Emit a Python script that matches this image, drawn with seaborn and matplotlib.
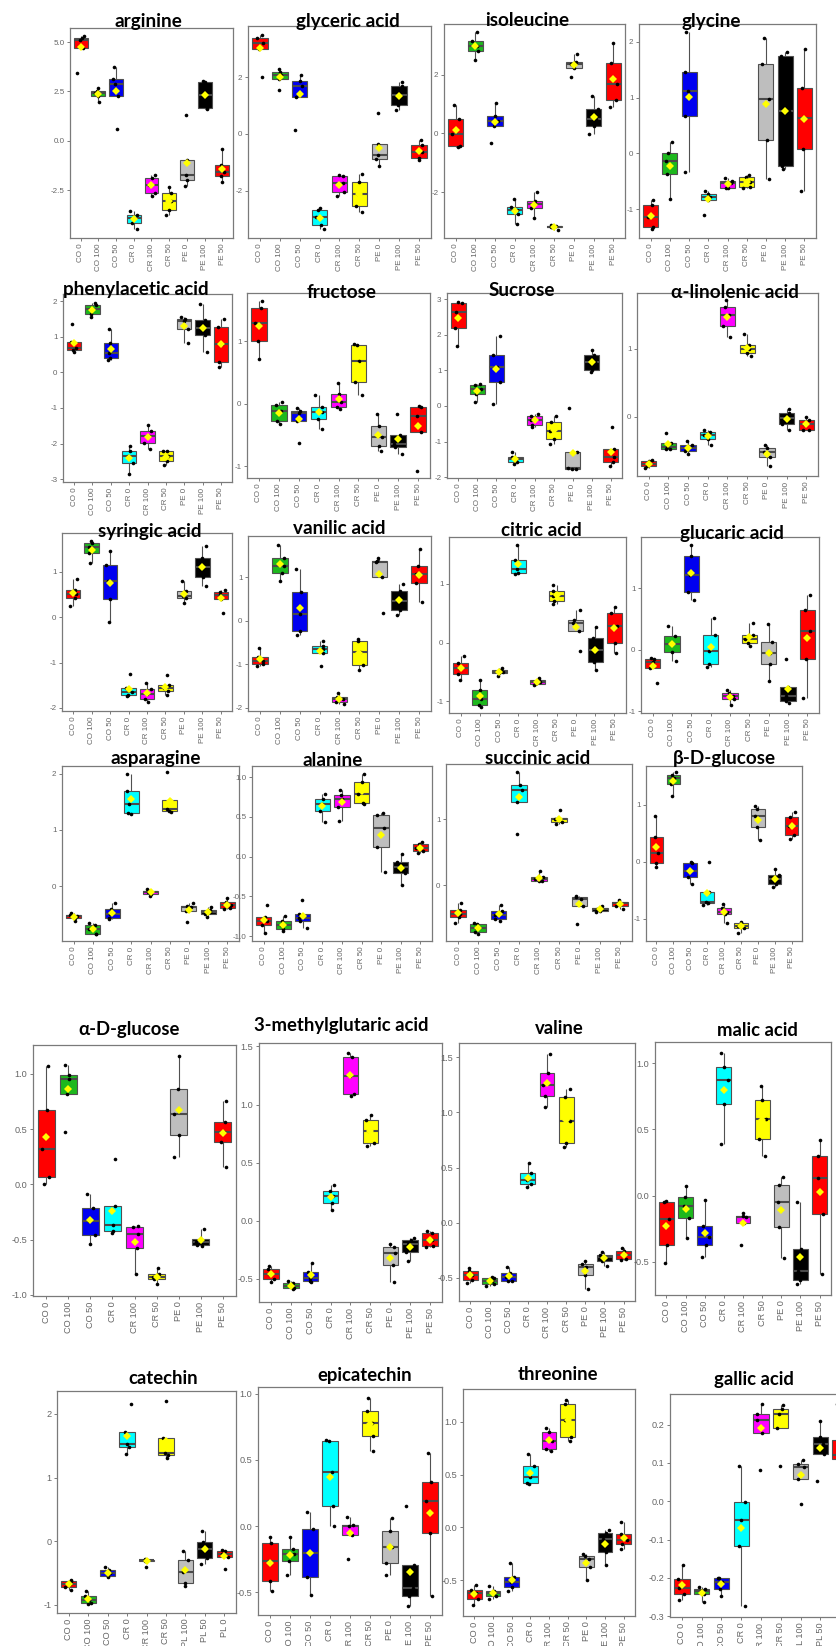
import numpy as np
import pandas as pd
import matplotlib
matplotlib.use("Agg")
import matplotlib.pyplot as plt
import seaborn as sns

# ---------------------------------------------------------------------------
# Treatment groups and their fill colours
GROUPS = ["CO 0", "CO 100", "CO 50", "CR 0", "CR 100", "CR 50", "PE 0", "PE 100", "PE 50"]
GROUPS_PL = ["CO 0", "CO 100", "CO 50", "CR 0", "CR 100", "CR 50", "PL 100", "PL 50", "PL 0"]
FILLS = ["#FF0000", "#1DB81D", "#0000F0", "#00FFFF", "#FF00FF", "#FFFF00",
         "#BEBEBE", "#000000", "#FF0000"]

# Scaled abundances, one list of replicates per group (same order as the groups)
arginine = [[3.42, 4.68, 5.1, 5.22, 5.3], [1.95, 2.25, 2.4, 2.52, 2.66], [0.59, 2.24, 2.86, 3.11, 3.75],
            [-4.46, -4.19, -3.94, -3.74, -3.54], [-2.78, -2.64, -2.22, -1.89, -1.72],
            [-3.74, -3.52, -3.06, -2.64, -2.36], [-2.3, -1.97, -1.75, -0.98, 1.31],
            [1.6, 1.65, 2.3, 2.95, 3.0], [-2.1, -1.77, -1.6, -1.23, -0.42]]
glyceric_acid = [[2.0, 2.97, 3.2, 3.38, 3.46], [1.53, 1.92, 2.06, 2.16, 2.27], [0.15, 1.3, 1.67, 1.85, 2.06],
                 [-3.35, -3.18, -2.91, -2.68, -2.6], [-2.19, -2.04, -1.72, -1.49, -1.45],
                 [-2.74, -2.53, -2.12, -1.68, -1.42], [-1.13, -0.87, -0.75, -0.36, 0.74],
                 [0.85, 1.03, 1.36, 1.67, 1.81], [-0.92, -0.84, -0.62, -0.4, -0.22]]
isoleucine = [[-0.47, -0.42, -0.03, 0.48, 0.96], [2.5, 2.81, 2.98, 3.16, 3.45], [-0.32, 0.24, 0.42, 0.6, 1.04],
              [-3.09, -2.75, -2.62, -2.52, -2.25], [-2.9, -2.55, -2.41, -2.29, -1.99],
              [-3.3, -3.21, -3.18, -3.15, -3.12], [1.93, 2.24, 2.36, 2.44, 2.7],
              [-0.03, 0.27, 0.5, 0.83, 1.28], [0.9, 1.13, 1.68, 2.42, 3.1]]
glycine = [[-1.36, -1.33, -1.14, -0.93, -0.84], [-0.82, -0.37, -0.14, 0.01, 0.21], [-0.34, 0.67, 1.11, 1.46, 2.18],
           [-1.11, -0.84, -0.78, -0.73, -0.67], [-0.63, -0.62, -0.54, -0.5, -0.45],
           [-0.62, -0.6, -0.52, -0.42, -0.39], [-0.46, 0.24, 0.97, 1.61, 2.06],
           [-0.29, -0.23, 0.75, 1.74, 1.82], [-0.67, 0.08, 0.64, 1.18, 1.88]]
phenylacetic_acid = [[0.58, 0.64, 0.69, 0.86, 1.37], [1.56, 1.63, 1.78, 1.89, 1.96], [0.36, 0.39, 0.55, 0.81, 1.21],
                     [-2.86, -2.55, -2.36, -2.22, -2.08], [-2.16, -1.99, -1.8, -1.64, -1.48],
                     [-2.6, -2.5, -2.36, -2.21, -2.2], [0.81, 1.23, 1.44, 1.51, 1.56],
                     [0.56, 1.05, 1.25, 1.47, 1.91], [0.14, 0.3, 0.79, 1.28, 1.51]]
fructose = [[0.72, 1.0, 1.29, 1.53, 1.64], [-0.33, -0.27, -0.12, -0.02, 0.02], [-0.63, -0.28, -0.15, -0.12, -0.07],
            [-0.41, -0.24, -0.14, -0.05, 0.14], [-0.08, -0.06, 0.03, 0.16, 0.33],
            [0.14, 0.34, 0.68, 0.94, 0.95], [-0.76, -0.68, -0.53, -0.35, -0.16],
            [-0.8, -0.69, -0.64, -0.5, -0.16], [-1.07, -0.45, -0.2, -0.05, -0.03]]
sucrose = [[1.68, 2.2, 2.65, 2.9, 2.93], [0.1, 0.33, 0.49, 0.59, 0.62], [0.05, 0.66, 1.08, 1.44, 1.95],
           [-1.62, -1.57, -1.49, -1.42, -1.28], [-0.58, -0.53, -0.39, -0.27, -0.22],
           [-1.06, -0.93, -0.7, -0.46, -0.28], [-1.78, -1.76, -1.75, -1.29, -0.05],
           [0.96, 1.02, 1.24, 1.42, 1.56], [-1.69, -1.57, -1.44, -1.2, -0.6]]
alpha_linolenic_acid = [[-0.75, -0.73, -0.69, -0.65, -0.63], [-0.48, -0.47, -0.44, -0.39, -0.24],
                        [-0.55, -0.5, -0.46, -0.41, -0.36], [-0.41, -0.32, -0.26, -0.23, -0.19],
                        [1.18, 1.33, 1.5, 1.62, 1.71], [0.89, 0.94, 0.99, 1.06, 1.21],
                        [-0.73, -0.59, -0.51, -0.46, -0.41], [-0.2, -0.1, -0.02, 0.06, 0.11],
                        [-0.2, -0.19, -0.11, -0.04, 0.0]]
syringic_acid = [[0.25, 0.43, 0.51, 0.6, 0.84], [1.19, 1.42, 1.55, 1.63, 1.68], [-0.11, 0.4, 0.81, 1.16, 1.47],
                 [-1.74, -1.72, -1.66, -1.56, -1.25], [-1.88, -1.8, -1.69, -1.58, -1.45],
                 [-1.71, -1.63, -1.57, -1.5, -1.28], [0.31, 0.42, 0.48, 0.58, 0.8],
                 [0.69, 0.88, 1.1, 1.3, 1.58], [0.1, 0.4, 0.49, 0.55, 0.6]]
vanilic_acid = [[-1.03, -1.0, -0.93, -0.83, -0.62], [0.92, 1.1, 1.25, 1.44, 1.74], [-0.33, -0.24, 0.15, 0.65, 1.19],
                [-1.04, -0.75, -0.64, -0.58, -0.46], [-1.9, -1.87, -1.8, -1.76, -1.65],
                [-1.13, -1.02, -0.72, -0.46, -0.41], [0.18, 1.01, 1.34, 1.36, 1.44],
                [0.12, 0.25, 0.46, 0.67, 0.85], [0.43, 0.86, 1.07, 1.25, 1.65]]
citric_acid = [[-0.64, -0.54, -0.44, -0.34, -0.22], [-1.09, -1.06, -0.96, -0.8, -0.63],
               [-0.57, -0.52, -0.5, -0.47, -0.43], [1.17, 1.18, 1.25, 1.4, 1.66],
               [-0.73, -0.7, -0.67, -0.63, -0.6], [0.65, 0.71, 0.8, 0.88, 0.98],
               [-0.14, 0.2, 0.34, 0.39, 0.56], [-0.47, -0.33, -0.13, 0.07, 0.26], [-0.18, 0.0, 0.28, 0.51, 0.6]]
glucaric_acid = [[-0.54, -0.3, -0.2, -0.16, -0.13], [-0.19, -0.04, 0.09, 0.22, 0.38], [0.81, 0.94, 1.22, 1.52, 1.7],
                 [-0.29, -0.23, -0.03, 0.23, 0.51], [-0.9, -0.81, -0.76, -0.71, -0.66],
                 [0.06, 0.11, 0.17, 0.24, 0.43], [-0.51, -0.24, -0.05, 0.12, 0.41],
                 [-0.87, -0.84, -0.76, -0.6, -0.15], [-0.78, -0.15, 0.31, 0.65, 0.89]]
asparagine = [[-0.62, -0.57, -0.54, -0.51, -0.48], [-0.86, -0.85, -0.76, -0.69, -0.66],
              [-0.58, -0.57, -0.49, -0.41, -0.31], [1.29, 1.31, 1.46, 1.69, 2.0],
              [-0.18, -0.14, -0.11, -0.08, -0.06], [1.32, 1.34, 1.37, 1.54, 2.03],
              [-0.65, -0.45, -0.38, -0.35, -0.3], [-0.56, -0.5, -0.47, -0.43, -0.37],
              [-0.41, -0.4, -0.34, -0.28, -0.22]]
alanine = [[-0.96, -0.86, -0.81, -0.76, -0.61], [-0.94, -0.91, -0.86, -0.81, -0.75],
           [-0.9, -0.81, -0.77, -0.72, -0.55], [0.44, 0.58, 0.66, 0.73, 0.79],
           [0.45, 0.63, 0.72, 0.77, 0.84], [0.66, 0.68, 0.79, 0.94, 1.04],
           [-0.19, 0.12, 0.36, 0.52, 0.55], [-0.36, -0.21, -0.13, -0.07, 0.03], [0.05, 0.07, 0.11, 0.16, 0.18]]
succinic_acid = [[-0.57, -0.48, -0.43, -0.37, -0.27], [-0.73, -0.71, -0.64, -0.58, -0.57],
                 [-0.54, -0.51, -0.45, -0.39, -0.3], [0.77, 1.25, 1.44, 1.51, 1.71],
                 [0.06, 0.07, 0.1, 0.13, 0.21], [0.92, 0.96, 1.0, 1.02, 1.13],
                 [-0.59, -0.31, -0.2, -0.18, -0.16], [-0.4, -0.39, -0.36, -0.34, -0.31],
                 [-0.36, -0.31, -0.27, -0.25, -0.22]]
beta_d_glucose = [[-0.1, -0.02, 0.16, 0.43, 0.8], [1.15, 1.37, 1.47, 1.52, 1.57], [-0.39, -0.26, -0.16, -0.03, 0.0],
                  [-0.75, -0.73, -0.71, -0.53, 0.0], [-1.07, -0.92, -0.88, -0.81, -0.74],
                  [-1.25, -1.16, -1.12, -1.08, -1.05], [0.39, 0.61, 0.8, 0.92, 0.98],
                  [-0.44, -0.39, -0.31, -0.23, -0.13], [0.4, 0.47, 0.63, 0.79, 0.88]]
alpha_d_glucose = [[0.0, 0.07, 0.32, 0.67, 1.07], [0.47, 0.82, 0.95, 0.99, 1.08], [-0.54, -0.46, -0.33, -0.21, -0.09],
                   [-0.44, -0.42, -0.37, -0.2, 0.23], [-0.81, -0.58, -0.45, -0.39, -0.38],
                   [-0.9, -0.86, -0.84, -0.81, -0.76], [0.25, 0.45, 0.64, 0.86, 1.16],
                   [-0.56, -0.55, -0.52, -0.49, -0.4], [0.16, 0.38, 0.47, 0.56, 0.75]]
methylglutaric_acid = [[-0.53, -0.5, -0.46, -0.42, -0.39], [-0.59, -0.58, -0.56, -0.54, -0.52],
                       [-0.53, -0.52, -0.49, -0.44, -0.36], [0.09, 0.15, 0.21, 0.26, 0.31],
                       [1.07, 1.09, 1.25, 1.41, 1.44], [0.64, 0.67, 0.77, 0.87, 0.91],
                       [-0.53, -0.38, -0.28, -0.23, -0.2], [-0.35, -0.27, -0.2, -0.17, -0.15],
                       [-0.23, -0.22, -0.17, -0.11, -0.09]]
valine = [[-0.55, -0.52, -0.47, -0.44, -0.41], [-0.57, -0.56, -0.53, -0.5, -0.49],
          [-0.53, -0.53, -0.49, -0.46, -0.4], [0.32, 0.35, 0.39, 0.45, 0.54],
          [1.05, 1.15, 1.25, 1.36, 1.53], [0.69, 0.72, 0.92, 1.14, 1.21],
          [-0.6, -0.47, -0.4, -0.37, -0.35], [-0.39, -0.35, -0.31, -0.29, -0.27],
          [-0.34, -0.33, -0.29, -0.26, -0.23]]
malic_acid = [[-0.51, -0.37, -0.18, -0.05, -0.04], [-0.32, -0.17, -0.08, -0.01, 0.07],
              [-0.46, -0.37, -0.31, -0.23, -0.03], [0.39, 0.69, 0.87, 0.97, 1.08],
              [-0.37, -0.21, -0.16, -0.15, -0.13], [0.3, 0.43, 0.58, 0.72, 0.83],
              [-0.47, -0.24, -0.05, 0.08, 0.14], [-0.67, -0.64, -0.57, -0.4, -0.05],
              [-0.59, -0.14, 0.13, 0.3, 0.42]]
catechin = [[-0.77, -0.72, -0.67, -0.63, -0.61], [-0.99, -0.98, -0.92, -0.86, -0.79],
            [-0.56, -0.55, -0.5, -0.45, -0.41], [1.37, 1.48, 1.53, 1.71, 2.16],
            [-0.4, -0.32, -0.3, -0.29, -0.28], [1.3, 1.36, 1.39, 1.62, 2.21],
            [-0.7, -0.66, -0.49, -0.29, -0.16], [-0.36, -0.26, -0.13, -0.01, 0.16],
            [-0.44, -0.25, -0.21, -0.16, -0.14]]
epicatechin = [[-0.49, -0.41, -0.26, -0.13, -0.08], [-0.37, -0.26, -0.21, -0.17, -0.08],
               [-0.52, -0.38, -0.2, -0.02, 0.11], [0.0, 0.15, 0.41, 0.64, 0.65],
               [-0.25, -0.07, 0.0, 0.01, 0.07], [0.57, 0.68, 0.78, 0.87, 0.97],
               [-0.37, -0.28, -0.16, -0.04, 0.06], [-0.6, -0.53, -0.47, -0.29, 0.15],
               [-0.53, -0.05, 0.19, 0.33, 0.55]]
threonine = [[-0.74, -0.68, -0.62, -0.59, -0.55], [-0.68, -0.65, -0.62, -0.6, -0.56],
             [-0.6, -0.57, -0.52, -0.47, -0.34], [0.41, 0.42, 0.48, 0.58, 0.69],
             [0.72, 0.74, 0.82, 0.9, 0.94], [0.82, 0.86, 1.02, 1.17, 1.21],
             [-0.5, -0.38, -0.3, -0.27, -0.25], [-0.36, -0.23, -0.11, -0.05, -0.03],
             [-0.21, -0.16, -0.12, -0.06, 0.05]]
gallic_acid = [[-0.258, -0.242, -0.226, -0.203, -0.167], [-0.263, -0.243, -0.235, -0.229, -0.223],
               [-0.246, -0.229, -0.211, -0.2, -0.199], [-0.274, -0.117, -0.048, -0.003, 0.091],
               [0.081, 0.178, 0.213, 0.228, 0.254], [0.091, 0.19, 0.228, 0.241, 0.252],
               [-0.006, 0.058, 0.09, 0.098, 0.109], [0.052, 0.123, 0.15, 0.167, 0.209],
               [0.106, 0.11, 0.122, 0.161, 0.254]]

# ---------------------------------------------------------------------------
# Panel layout: title, values, group labels, axes box in pixels (left, top, right, bottom),
# title centre in pixels, y-range, y ticks, tick format, text scale ("s" small / "l" large)
PANELS = [
    ("arginine", arginine, GROUPS, (70, 28, 233, 238), (148, 21), (-4.93, 5.71), [-2.5, 0, 2.5, 5], "%.1f", "s"),
    ("glyceric acid", glyceric_acid, GROUPS, (248, 26, 431, 238), (348, 21), (-3.65, 3.79), [-2, 0, 2], "%d", "s"),
    ("isoleucine", isoleucine, GROUPS, (444, 24, 625, 238), (527, 21), (-3.57, 3.74), [-2, 0, 2], "%d", "s"),
    ("glycine", glycine, GROUPS, (639, 24, 816, 238), (711, 21), (-1.52, 2.32), [-1, 0, 1, 2], "%d", "s"),
    ("phenylacetic acid", phenylacetic_acid, GROUPS, (63, 294, 232, 482), (136, 290), (-3.08, 2.2),
     [-3, -2, -1, 0, 1, 2], "%d", "s"),
    ("fructose", fructose, GROUPS, (247, 293, 430, 478), (342, 292), (-1.19, 1.77), [-1, 0, 1], "%d", "s"),
    ("Sucrose", sucrose, GROUPS, (447, 293, 622, 478), (522, 290), (-2.02, 3.17), [-2, -1, 0, 1, 2, 3], "%d", "s"),
    ("\u03b1-linolenic acid", alpha_linolenic_acid, GROUPS, (637, 293, 818, 476), (735, 293), (-0.87, 1.82),
     [0, 1], "%d", "s"),
    ("syringic acid", syringic_acid, GROUPS, (62, 533, 232, 711), (150, 531), (-2.07, 1.86), [-2, -1, 0, 1], "%d", "s"),
    ("vanilic acid", vanilic_acid, GROUPS, (248, 536, 431, 711), (339, 529), (-2.07, 1.94), [-2, -1, 0, 1], "%d", "s"),
    ("citric acid", citric_acid, GROUPS, (449, 537, 626, 713), (541, 531), (-1.2, 1.8), [-1, 0, 1], "%d", "s"),
    ("glucaric acid", glucaric_acid, GROUPS, (641, 537, 819, 713), (732, 533), (-1.03, 1.83), [-1, 0, 1], "%d", "s"),
    ("asparagine", asparagine, GROUPS, (62, 766, 239, 941), (156, 758), (-0.98, 2.14), [0, 1, 2], "%d", "s"),
    ("alanine", alanine, GROUPS, (252, 766, 432, 941), (333, 761), (-1.06, 1.14), [-1, -0.5, 0, 0.5, 1], "%.1f", "s"),
    ("succinic acid", succinic_acid, GROUPS, (446, 764, 632, 941), (538, 758), (-0.84, 1.83), [0, 1], "%d", "s"),
    ("\u03b2-D-glucose", beta_d_glucose, GROUPS, (646, 766, 802, 941), (724, 758), (-1.39, 1.68), [-1, 0, 1], "%d", "s"),
    ("\u03b1-D-glucose", alpha_d_glucose, GROUPS, (33, 1045, 236, 1296), (129, 1030), (-1.01, 1.26),
     [-1, -0.5, 0, 0.5, 1], "%.1f", "l"),
    ("3-methylglutaric acid", methylglutaric_acid, GROUPS, (259, 1043, 442, 1302), (341, 1025), (-0.70, 1.53),
     [-0.5, 0, 0.5, 1, 1.5], "%.1f", "l"),
    ("valine", valine, GROUPS, (459, 1043, 635, 1301), (559, 1028), (-0.71, 1.63),
     [-0.5, 0, 0.5, 1, 1.5], "%.1f", "l"),
    ("malic acid", malic_acid, GROUPS, (655, 1042, 831, 1295), (757, 1030), (-0.75, 1.16),
     [-0.5, 0, 0.5, 1], "%.1f", "l"),
    ("catechin", catechin, GROUPS_PL, (57, 1391, 236, 1613), (163, 1379), (-1.13, 2.36), [-1, 0, 1, 2], "%d", "l"),
    ("epicatechin", epicatechin, GROUPS, (258, 1387, 442, 1615), (365, 1376), (-0.67, 1.05),
     [-0.5, 0, 0.5, 1], "%.1f", "l"),
    ("threonine", threonine, GROUPS, (463, 1389, 635, 1616), (558, 1375), (-0.84, 1.31),
     [-0.5, 0, 0.5, 1], "%.1f", "l"),
    ("gallic acid", gallic_acid, GROUPS_PL, (670, 1394, 852, 1617), (754, 1379), (-0.302, 0.28),
     [-0.3, -0.2, -0.1, 0, 0.1, 0.2], "%.1f", "l"),
]

W, H = 837, 1646
sns.set_theme(style="white")
plt.rcParams["font.family"] = ["Liberation Sans", "DejaVu Sans"]
plt.rcParams["axes.unicode_minus"] = False
np.random.seed(7)

fig = plt.figure(figsize=(W / 100, H / 100), dpi=100)
fig.patch.set_facecolor("white")

TITLE_FONT = ["Lato", "Open Sans", "DejaVu Sans"]

for title, values, labels, (l, t, r, b), (tx, ty), ylim, yt, fmt, scale in PANELS:
    rows = [(lab, v) for lab, vals in zip(labels, values) for v in vals]
    df = pd.DataFrame(rows, columns=["group", "value"])

    ax = fig.add_axes([l / W, 1 - b / H, (r - l) / W, (b - t) / H])
    sns.boxplot(data=df, x="group", y="value", order=labels, hue="group", hue_order=labels,
                palette=FILLS, legend=False, saturation=1, width=0.78, showfliers=False,
                showcaps=False, linecolor="#505050", linewidth=0.8,
                medianprops=dict(color="#4a4a4a", linewidth=1.5), ax=ax)
    sns.stripplot(data=df, x="group", y="value", order=labels, color="black", size=2.6,
                  jitter=0.22, linewidth=0, ax=ax, zorder=3)
    sns.pointplot(data=df, x="group", y="value", order=labels, estimator="mean", errorbar=None,
                  color="#FFFF00", markers="D", linestyle="none", markersize=3.6,
                  markeredgewidth=0, ax=ax, zorder=5)

    ax.set_xlim(-0.6, 8.6)
    ax.set_ylim(*ylim)
    ax.set_yticks(yt)
    ax.set_yticklabels([fmt % v for v in yt])
    ax.set_xlabel("")
    ax.set_ylabel("")
    fs = 5.8 if scale == "s" else 6.6
    ax.tick_params(axis="both", bottom=True, left=True, length=2.5, width=0.6, color="#666666",
                   labelcolor="#666666", labelsize=fs, pad=1.5)
    ax.tick_params(axis="x", labelrotation=90)
    for sp in ax.spines.values():
        sp.set_visible(True)
        sp.set_color("#7a7a7a")
        sp.set_linewidth(0.9)

    tsize = 13.6 if scale == "s" else 13.3
    fig.text(tx / W, 1 - ty / H, title, ha="center", va="center", fontsize=tsize,
             fontweight="bold", family=TITLE_FONT, color="black", zorder=10)

fig.savefig("out.png", dpi=100, facecolor="white")
